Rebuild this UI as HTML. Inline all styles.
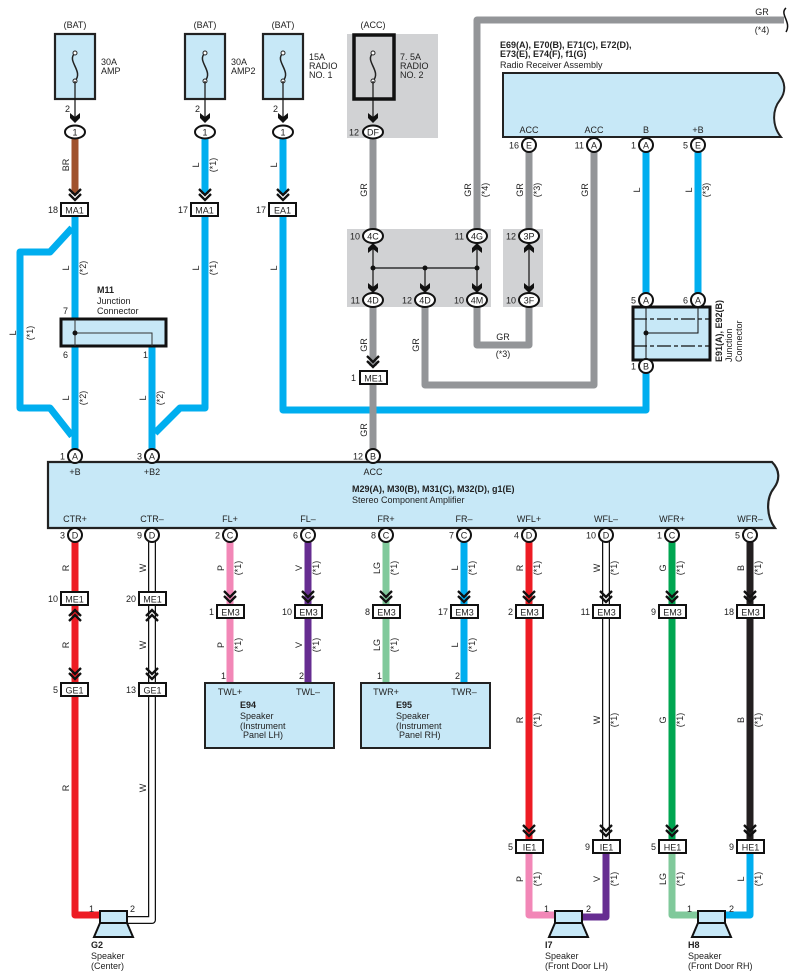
<!DOCTYPE html>
<html><head><meta charset="utf-8"><style>
html,body{margin:0;padding:0;background:#fff;}
svg{display:block;font-family:"Liberation Sans",sans-serif;}
text{font-size:9px;fill:#222;}
.b{font-weight:bold;}
.w{fill:none;stroke-linejoin:round;}
</style></head><body>
<svg width="802" height="979" viewBox="0 0 802 979" xmlns="http://www.w3.org/2000/svg">
<defs>
<g id="chd"><path d="M-6,-9 L0,-3 L6,-9 M-6,-4 L0,2 L6,-4" fill="none" stroke="#111" stroke-width="2.3"/></g>
<g id="chu"><path d="M-6,9 L0,3 L6,9 M-6,4 L0,-2 L6,4" fill="none" stroke="#111" stroke-width="2.3"/></g>
<g id="ard"><path d="M-5,-7 L0,-3 L5,-7 L5,-2 L0,3 L-5,-2 Z" fill="#111"/></g>
<g id="aru"><path d="M-5,7 L0,3 L5,7 L5,2 L0,-3 L-5,2 Z" fill="#111"/></g>
<g id="fuse"><path d="M0,-14 C-9,-6 9,4 0,14" fill="none" stroke="#222" stroke-width="1.5"/><circle cx="0" cy="-14" r="2" fill="#fff" stroke="#222"/><circle cx="0" cy="14" r="2" fill="#fff" stroke="#222"/></g>
</defs>

<!-- grey backgrounds -->
<rect x="347" y="34" width="91" height="104" fill="#d1d2d4"/>
<rect x="347" y="229" width="144" height="78" fill="#d1d2d4"/>
<rect x="503" y="229" width="40" height="78" fill="#d1d2d4"/>

<!-- fuses -->
<g font-size="9">
<text x="75" y="28" text-anchor="middle">(BAT)</text>
<text x="205" y="28" text-anchor="middle">(BAT)</text>
<text x="283" y="28" text-anchor="middle">(BAT)</text>
<text x="373" y="28" text-anchor="middle">(ACC)</text>
</g>
<rect x="55" y="34" width="40" height="65" fill="#c7e8f7" stroke="#222" stroke-width="2.2"/>
<rect x="185" y="34" width="40" height="65" fill="#c7e8f7" stroke="#222" stroke-width="2.2"/>
<rect x="263" y="34" width="40" height="65" fill="#c7e8f7" stroke="#222" stroke-width="2.2"/>
<rect x="354" y="35" width="40" height="64" fill="#d1d2d4" stroke="#111" stroke-width="3.5"/>
<use href="#fuse" x="75" y="67"/><use href="#fuse" x="205" y="67"/><use href="#fuse" x="283" y="67"/><use href="#fuse" x="373" y="67"/>
<text x="101" y="65">30A</text><text x="101" y="74">AMP</text>
<text x="231" y="65">30A</text><text x="231" y="74">AMP2</text>
<text x="309" y="60">15A</text><text x="309" y="69">RADIO</text><text x="309" y="78">NO. 1</text>
<text x="400" y="60">7. 5A</text><text x="400" y="69">RADIO</text><text x="400" y="78">NO. 2</text>
<g stroke="#111" stroke-width="1.2">
<line x1="75" y1="81" x2="75" y2="118"/><line x1="205" y1="81" x2="205" y2="118"/><line x1="283" y1="81" x2="283" y2="118"/><line x1="373" y1="81" x2="373" y2="118"/>
</g>
<use href="#ard" x="75" y="120"/><use href="#ard" x="205" y="120"/><use href="#ard" x="283" y="120"/><use href="#ard" x="373" y="120"/>
<text x="70" y="112" text-anchor="end">2</text><text x="200" y="112" text-anchor="end">2</text><text x="278" y="112" text-anchor="end">2</text>

<!-- ===== WIRES (top) ===== -->
<g class="w" stroke-width="7">
<path d="M75,139 V194" stroke="#a0522d"/>
<path d="M205,139 V194" stroke="#00aeef"/>
<path d="M283,139 V194" stroke="#00aeef"/>
<path d="M75,216 V449" stroke="#00aeef"/>
<path d="M72,228 L50,252 H20 V408 H50 L72,436" stroke="#00aeef"/>
<path d="M152,346 V449" stroke="#00aeef"/>
<path d="M205,216 V408 H180 L155,433" stroke="#00aeef"/>
<path d="M283,216 V410 H646 V373" stroke="#00aeef"/>
<path d="M646,152 V293" stroke="#00aeef"/>
<path d="M698,152 V293" stroke="#00aeef"/>
<path d="M373,139 V229" stroke="#939598"/>
<path d="M373,307 V366" stroke="#939598"/>
<path d="M373,385 V449" stroke="#939598"/>
<path d="M425,307 V385 H594 V152" stroke="#939598"/>
<path d="M477,307 V345 H529 V307" stroke="#939598"/>
<path d="M529,229 V152" stroke="#939598"/>
<path d="M477,229 V20 H784" stroke="#939598"/>
</g>
<path d="M786,8 C779,14 792,22 786,32" fill="none" stroke="#111" stroke-width="1.5"/>
<text x="762" y="15" text-anchor="middle">GR</text><text x="762" y="33" text-anchor="middle">(*4)</text>

<!-- top connectors -->
<g fill="#fff" stroke="#111" stroke-width="2">
<ellipse cx="75" cy="132" rx="10" ry="6.5"/><ellipse cx="205" cy="132" rx="10" ry="6.5"/><ellipse cx="283" cy="132" rx="10" ry="6.5"/><ellipse cx="373" cy="132" rx="10" ry="6.5"/>
</g>
<g text-anchor="middle"><text x="75" y="135.5">1</text><text x="205" y="135.5">1</text><text x="283" y="135.5">1</text><text x="373" y="135.5">DF</text></g>
<text x="359" y="135.5" text-anchor="end">12</text>

<use href="#chd" x="75" y="198"/><use href="#chd" x="205" y="198"/><use href="#chd" x="283" y="198"/>
<g fill="#fff" stroke="#111" stroke-width="2">
<rect x="61" y="203" width="27" height="13"/><rect x="191" y="203" width="27" height="13"/><rect x="269" y="203" width="27" height="13"/>
</g>
<g text-anchor="middle" font-size="10"><text x="74.5" y="213.5" font-size="10">MA1</text><text x="204.5" y="213.5" font-size="10">MA1</text><text x="282.5" y="213.5" font-size="10">EA1</text></g>
<g text-anchor="end"><text x="58" y="213">18</text><text x="188" y="213">17</text><text x="266" y="213">17</text></g>

<!-- wire labels rotated -->
<g text-anchor="middle">
<text transform="translate(69,165) rotate(-90)">BR</text>
<text transform="translate(199,165) rotate(-90)">L</text><text transform="translate(216,165) rotate(-90)">(*1)</text>
<text transform="translate(277,165) rotate(-90)">L</text>
<text transform="translate(69,268) rotate(-90)">L</text><text transform="translate(86,268) rotate(-90)">(*2)</text>
<text transform="translate(199,268) rotate(-90)">L</text><text transform="translate(216,268) rotate(-90)">(*1)</text>
<text transform="translate(277,268) rotate(-90)">L</text>
<text transform="translate(16,333) rotate(-90)">L</text><text transform="translate(33,333) rotate(-90)">(*1)</text>
<text transform="translate(69,398) rotate(-90)">L</text><text transform="translate(86,398) rotate(-90)">(*2)</text>
<text transform="translate(146,398) rotate(-90)">L</text><text transform="translate(163,398) rotate(-90)">(*2)</text>
<text transform="translate(367,190) rotate(-90)">GR</text>
<text transform="translate(367,345) rotate(-90)">GR</text>
<text transform="translate(367,430) rotate(-90)">GR</text>
<text transform="translate(419,345) rotate(-90)">GR</text>
<text transform="translate(471,190) rotate(-90)">GR</text><text transform="translate(488,190) rotate(-90)">(*4)</text>
<text transform="translate(523,190) rotate(-90)">GR</text><text transform="translate(540,190) rotate(-90)">(*3)</text>
<text transform="translate(588,190) rotate(-90)">GR</text>
<text transform="translate(640,190) rotate(-90)">L</text>
<text transform="translate(692,190) rotate(-90)">L</text><text transform="translate(709,190) rotate(-90)">(*3)</text>
</g>
<text x="503" y="340" text-anchor="middle">GR</text><text x="503" y="357" text-anchor="middle">(*3)</text>

<!-- M11 -->
<text x="97" y="293" class="b">M11</text><text x="97" y="304">Junction</text><text x="97" y="314">Connector</text>
<rect x="61" y="319" width="105" height="27" fill="#c7e8f7" stroke="#111" stroke-width="3"/>
<path d="M75,319 V346 M75,333 H152 V346" fill="none" stroke="#333" stroke-width="1"/>
<circle cx="75" cy="333" r="2.5" fill="#111"/>
<text x="68" y="314" text-anchor="end">7</text><text x="68" y="358" text-anchor="end">6</text><text x="148" y="358" text-anchor="end">1</text>

<!-- junction block -->
<g stroke="#111" stroke-width="1.2">
<line x1="373" y1="243" x2="373" y2="294"/><line x1="477" y1="243" x2="477" y2="294"/><line x1="529" y1="243" x2="529" y2="294"/>
<line x1="425" y1="268" x2="425" y2="294"/><line x1="373" y1="268" x2="477" y2="268"/>
</g>
<circle cx="373" cy="268" r="2.5" fill="#111"/><circle cx="425" cy="268" r="2.5" fill="#111"/><circle cx="477" cy="268" r="2.5" fill="#111"/>
<use href="#aru" x="373" y="246"/><use href="#aru" x="477" y="246"/><use href="#aru" x="529" y="246"/>
<use href="#ard" x="373" y="290"/><use href="#ard" x="425" y="290"/><use href="#ard" x="477" y="290"/><use href="#ard" x="529" y="290"/>
<g fill="#fff" stroke="#111" stroke-width="2">
<ellipse cx="373" cy="236" rx="10" ry="7"/><ellipse cx="477" cy="236" rx="10" ry="7"/><ellipse cx="529" cy="236" rx="10" ry="7"/>
<ellipse cx="373" cy="300" rx="10" ry="7"/><ellipse cx="425" cy="300" rx="10" ry="7"/><ellipse cx="477" cy="300" rx="10" ry="7"/><ellipse cx="529" cy="300" rx="10" ry="7"/>
</g>
<g text-anchor="middle"><text x="373" y="239.5">4C</text><text x="477" y="239.5">4G</text><text x="529" y="239.5">3P</text>
<text x="373" y="303.5">4D</text><text x="425" y="303.5">4D</text><text x="477" y="303.5">4M</text><text x="529" y="303.5">3F</text></g>
<g text-anchor="end"><text x="360" y="239.5">10</text><text x="464" y="239.5">11</text><text x="516" y="239.5">12</text>
<text x="360" y="303.5">11</text><text x="412" y="303.5">12</text><text x="464" y="303.5">10</text><text x="516" y="303.5">10</text></g>

<!-- ME1 -->
<use href="#chd" x="373" y="365"/>
<rect x="360" y="371" width="27" height="13" fill="#fff" stroke="#111" stroke-width="2"/>
<text x="373.5" y="381.5" text-anchor="middle" font-size="10">ME1</text><text x="356" y="381" text-anchor="end">1</text>

<!-- Radio receiver -->
<text x="500" y="48" class="b">E69(A), E70(B), E71(C), E72(D),</text>
<text x="500" y="57" class="b">E73(E), E74(F), f1(G)</text>
<text x="500" y="68">Radio Receiver Assembly</text>
<path d="M503,73 H778 C786,82 786,92 780,100 C772,110 772,126 781,137 H503 Z" fill="#c7e8f7" stroke="#222" stroke-width="2"/>
<g text-anchor="middle"><text x="529" y="133">ACC</text><text x="594" y="133">ACC</text><text x="646" y="133">B</text><text x="698" y="133">+B</text></g>
<g fill="#fff" stroke="#111" stroke-width="2"><circle cx="529" cy="145" r="7"/><circle cx="594" cy="145" r="7"/><circle cx="646" cy="145" r="7"/><circle cx="698" cy="145" r="7"/></g>
<g text-anchor="middle"><text x="529" y="148.5">E</text><text x="594" y="148.5">A</text><text x="646" y="148.5">A</text><text x="698" y="148.5">E</text></g>
<g text-anchor="end"><text x="519" y="148.5">16</text><text x="584" y="148.5">11</text><text x="636" y="148.5">1</text><text x="688" y="148.5">5</text></g>

<!-- E91 -->
<rect x="633" y="307" width="77" height="53" fill="#c7e8f7" stroke="#111" stroke-width="3"/>
<path d="M633,319 H710 M633,346 H710" stroke="#111" stroke-width="1.2" stroke-dasharray="14,3,4,3"/>
<path d="M646,307 V360 M698,307 V333 H646" fill="none" stroke="#111" stroke-width="1"/>
<circle cx="646" cy="333" r="2.5" fill="#111"/>
<g fill="#fff" stroke="#111" stroke-width="2"><circle cx="646" cy="300" r="7"/><circle cx="698" cy="300" r="7"/><circle cx="646" cy="366" r="7"/></g>
<g text-anchor="middle"><text x="646" y="303.5">A</text><text x="698" y="303.5">A</text><text x="646" y="369.5">B</text></g>
<g text-anchor="end"><text x="636" y="303.5">5</text><text x="688" y="303.5">6</text><text x="636" y="369.5">1</text></g>
<text transform="translate(722,362) rotate(-90)" class="b">E91(A), E92(B)</text>
<text transform="translate(732,362) rotate(-90)">Junction</text>
<text transform="translate(742,362) rotate(-90)">Connector</text>

<!-- ===== AMPLIFIER ===== -->
<path d="M48,462 H772 C780,470 780,480 774,488 C766,498 766,516 775,528 H48 Z" fill="#c7e8f7" stroke="#222" stroke-width="2.2"/>
<g fill="#fff" stroke="#111" stroke-width="2"><circle cx="75" cy="456" r="7"/><circle cx="152" cy="456" r="7"/><circle cx="373" cy="456" r="7"/></g>
<g text-anchor="middle"><text x="75" y="459.5">A</text><text x="152" y="459.5">A</text><text x="373" y="459.5">B</text></g>
<g text-anchor="end"><text x="65" y="459.5">1</text><text x="142" y="459.5">3</text><text x="363" y="459.5">12</text></g>
<g text-anchor="middle"><text x="75" y="475">+B</text><text x="152" y="475">+B2</text><text x="373" y="475">ACC</text></g>
<text x="352" y="492" class="b">M29(A), M30(B), M31(C), M32(D), g1(E)</text>
<text x="352" y="503">Stereo Component Amplifier</text>
<g text-anchor="middle">
<text x="75" y="522">CTR+</text><text x="152" y="522">CTR–</text><text x="230" y="522">FL+</text><text x="308" y="522">FL–</text>
<text x="386" y="522">FR+</text><text x="464" y="522">FR–</text><text x="529" y="522">WFL+</text><text x="606" y="522">WFL–</text>
<text x="672" y="522">WFR+</text><text x="750" y="522">WFR–</text>
</g>

<!-- bottom wires -->
<g class="w" stroke-width="7">
<path d="M75,542 V915 H100" stroke="#ed1c24"/>
<path d="M230,542 V683" stroke="#f287b7"/>
<path d="M308,542 V683" stroke="#662d91"/>
<path d="M386,542 V683" stroke="#80c99b"/>
<path d="M464,542 V683" stroke="#00aeef"/>
<path d="M529,542 V839" stroke="#ed1c24"/>
<path d="M529,853 V915 H556" stroke="#f287b7"/>
<path d="M606,853 V917 H581" stroke="#662d91"/>
<path d="M672,542 V839" stroke="#00a651"/>
<path d="M672,853 V915 H699" stroke="#80c99b"/>
<path d="M750,542 V839" stroke="#231f20"/>
<path d="M750,853 V915 H724" stroke="#00aeef"/>
</g>
<!-- white wires -->
<g class="w">
<path d="M152,542 V920 H127" stroke="#111" stroke-width="8"/>
<path d="M152,542 V920 H127" stroke="#fff" stroke-width="5.5"/>
<path d="M606,542 V839" stroke="#111" stroke-width="8"/>
<path d="M606,542 V839" stroke="#fff" stroke-width="5.5"/>
</g>

<!-- bottom pins -->
<g fill="#fff" stroke="#111" stroke-width="2">
<circle cx="75" cy="535" r="7"/><circle cx="152" cy="535" r="7"/><circle cx="230" cy="535" r="7"/><circle cx="308" cy="535" r="7"/>
<circle cx="386" cy="535" r="7"/><circle cx="464" cy="535" r="7"/><circle cx="529" cy="535" r="7"/><circle cx="606" cy="535" r="7"/>
<circle cx="672" cy="535" r="7"/><circle cx="750" cy="535" r="7"/>
</g>
<g text-anchor="middle">
<text x="75" y="538.5">D</text><text x="152" y="538.5">D</text><text x="230" y="538.5">C</text><text x="308" y="538.5">C</text>
<text x="386" y="538.5">C</text><text x="464" y="538.5">C</text><text x="529" y="538.5">D</text><text x="606" y="538.5">D</text>
<text x="672" y="538.5">C</text><text x="750" y="538.5">C</text>
</g>
<g text-anchor="end">
<text x="65" y="538.5">3</text><text x="142" y="538.5">9</text><text x="220" y="538.5">2</text><text x="298" y="538.5">6</text>
<text x="376" y="538.5">8</text><text x="454" y="538.5">7</text><text x="519" y="538.5">4</text><text x="596" y="538.5">10</text>
<text x="662" y="538.5">1</text><text x="740" y="538.5">5</text>
</g>

<!-- ME1 / GE1 -->
<g fill="#fff" stroke="#111" stroke-width="2">
<rect x="61" y="592" width="27" height="13"/><rect x="139" y="592" width="27" height="13"/>
<rect x="61" y="683" width="27" height="13"/><rect x="139" y="683" width="27" height="13"/>
</g>
<use href="#chu" x="75" y="612"/><use href="#chu" x="152" y="612"/>
<use href="#chd" x="75" y="677"/><use href="#chd" x="152" y="677"/>
<g text-anchor="middle" font-size="10"><text x="74.5" y="602.5" font-size="10">ME1</text><text x="152.5" y="602.5" font-size="10">ME1</text>
<text x="74.5" y="693.5" font-size="10">GE1</text><text x="152.5" y="693.5" font-size="10">GE1</text></g>
<g text-anchor="end"><text x="58" y="602">10</text><text x="136" y="602">20</text><text x="58" y="693">5</text><text x="136" y="693">13</text></g>

<!-- EM3 row -->
<g fill="#fff" stroke="#111" stroke-width="2">
<rect x="217" y="605" width="27" height="13"/><rect x="295" y="605" width="27" height="13"/><rect x="373" y="605" width="27" height="13"/><rect x="451" y="605" width="27" height="13"/>
<rect x="516" y="605" width="27" height="13"/><rect x="593" y="605" width="27" height="13"/><rect x="659" y="605" width="27" height="13"/><rect x="737" y="605" width="27" height="13"/>
</g>
<use href="#chd" x="230" y="600"/><use href="#chd" x="308" y="600"/><use href="#chd" x="386" y="600"/><use href="#chd" x="464" y="600"/>
<use href="#chd" x="529" y="600"/><use href="#chd" x="606" y="600"/><use href="#chd" x="672" y="600"/><use href="#chd" x="750" y="600"/>
<g text-anchor="middle">
<text x="230.5" y="615.5" font-size="10">EM3</text><text x="308.5" y="615.5" font-size="10">EM3</text><text x="386.5" y="615.5" font-size="10">EM3</text><text x="464.5" y="615.5" font-size="10">EM3</text>
<text x="529.5" y="615.5" font-size="10">EM3</text><text x="606.5" y="615.5" font-size="10">EM3</text><text x="672.5" y="615.5" font-size="10">EM3</text><text x="750.5" y="615.5" font-size="10">EM3</text>
</g>
<g text-anchor="end">
<text x="214" y="615">1</text><text x="292" y="615">10</text><text x="370" y="615">8</text><text x="448" y="615">17</text>
<text x="513" y="615">2</text><text x="590" y="615">11</text><text x="656" y="615">9</text><text x="734" y="615">18</text>
</g>

<!-- E94 / E95 -->
<rect x="205" y="683" width="129" height="65" fill="#c7e8f7" stroke="#222" stroke-width="2"/>
<rect x="361" y="683" width="129" height="65" fill="#c7e8f7" stroke="#222" stroke-width="2"/>
<text x="226" y="679" text-anchor="end">1</text><text x="304" y="679" text-anchor="end">2</text>
<text x="382" y="679" text-anchor="end">1</text><text x="460" y="679" text-anchor="end">2</text>
<g text-anchor="middle"><text x="230" y="695">TWL+</text><text x="308" y="695">TWL–</text><text x="386" y="695">TWR+</text><text x="464" y="695">TWR–</text></g>
<text x="240" y="708" class="b">E94</text><text x="240" y="719">Speaker</text><text x="240" y="729">(Instrument</text><text x="243" y="738">Panel LH)</text>
<text x="396" y="708" class="b">E95</text><text x="396" y="719">Speaker</text><text x="396" y="729">(Instrument</text><text x="399" y="738">Panel RH)</text>

<!-- IE1 / HE1 -->
<use href="#chd" x="529" y="834"/><use href="#chd" x="606" y="834"/><use href="#chd" x="672" y="834"/><use href="#chd" x="750" y="834"/>
<g fill="#fff" stroke="#111" stroke-width="2">
<rect x="516" y="840" width="27" height="13"/><rect x="593" y="840" width="27" height="13"/><rect x="659" y="840" width="27" height="13"/><rect x="737" y="840" width="27" height="13"/>
</g>
<g text-anchor="middle">
<text x="529.5" y="850.5" font-size="10">IE1</text><text x="606.5" y="850.5" font-size="10">IE1</text><text x="672.5" y="850.5" font-size="10">HE1</text><text x="750.5" y="850.5" font-size="10">HE1</text>
</g>
<g text-anchor="end"><text x="513" y="850">5</text><text x="590" y="850">9</text><text x="656" y="850">5</text><text x="734" y="850">9</text></g>

<!-- bottom wire labels -->
<g text-anchor="middle">
<text transform="translate(69,568) rotate(-90)">R</text>
<text transform="translate(146,568) rotate(-90)">W</text>
<text transform="translate(224,568) rotate(-90)">P</text><text transform="translate(241,568) rotate(-90)">(*1)</text>
<text transform="translate(302,568) rotate(-90)">V</text><text transform="translate(319,568) rotate(-90)">(*1)</text>
<text transform="translate(380,568) rotate(-90)">LG</text><text transform="translate(397,568) rotate(-90)">(*1)</text>
<text transform="translate(458,568) rotate(-90)">L</text><text transform="translate(475,568) rotate(-90)">(*1)</text>
<text transform="translate(523,568) rotate(-90)">R</text><text transform="translate(540,568) rotate(-90)">(*1)</text>
<text transform="translate(600,568) rotate(-90)">W</text><text transform="translate(617,568) rotate(-90)">(*1)</text>
<text transform="translate(666,568) rotate(-90)">G</text><text transform="translate(683,568) rotate(-90)">(*1)</text>
<text transform="translate(744,568) rotate(-90)">B</text><text transform="translate(761,568) rotate(-90)">(*1)</text>
<text transform="translate(69,645) rotate(-90)">R</text>
<text transform="translate(146,645) rotate(-90)">W</text>
<text transform="translate(224,645) rotate(-90)">P</text><text transform="translate(241,645) rotate(-90)">(*1)</text>
<text transform="translate(302,645) rotate(-90)">V</text><text transform="translate(319,645) rotate(-90)">(*1)</text>
<text transform="translate(380,645) rotate(-90)">LG</text><text transform="translate(397,645) rotate(-90)">(*1)</text>
<text transform="translate(458,645) rotate(-90)">L</text><text transform="translate(475,645) rotate(-90)">(*1)</text>
<text transform="translate(69,788) rotate(-90)">R</text>
<text transform="translate(146,788) rotate(-90)">W</text>
<text transform="translate(523,720) rotate(-90)">R</text><text transform="translate(540,720) rotate(-90)">(*1)</text>
<text transform="translate(600,720) rotate(-90)">W</text><text transform="translate(617,720) rotate(-90)">(*1)</text>
<text transform="translate(666,720) rotate(-90)">G</text><text transform="translate(683,720) rotate(-90)">(*1)</text>
<text transform="translate(744,720) rotate(-90)">B</text><text transform="translate(761,720) rotate(-90)">(*1)</text>
<text transform="translate(523,879) rotate(-90)">P</text><text transform="translate(540,879) rotate(-90)">(*1)</text>
<text transform="translate(600,879) rotate(-90)">V</text><text transform="translate(617,879) rotate(-90)">(*1)</text>
<text transform="translate(666,879) rotate(-90)">LG</text><text transform="translate(683,879) rotate(-90)">(*1)</text>
<text transform="translate(744,879) rotate(-90)">L</text><text transform="translate(761,879) rotate(-90)">(*1)</text>
</g>

<!-- speakers -->
<g fill="#c7e8f7" stroke="#111" stroke-width="2">
<rect x="100" y="911" width="27" height="12"/><path d="M100,923 H127 L133,937 H94 Z"/>
<rect x="555" y="911" width="27" height="12"/><path d="M555,923 H582 L588,937 H549 Z"/>
<rect x="698" y="911" width="27" height="12"/><path d="M698,923 H725 L731,937 H692 Z"/>
</g>
<text x="94" y="912" text-anchor="end">1</text><text x="130" y="912">2</text>
<text x="549" y="912" text-anchor="end">1</text><text x="586" y="912">2</text>
<text x="692" y="912" text-anchor="end">1</text><text x="729" y="912">2</text>
<text x="91" y="948" class="b">G2</text><text x="91" y="959">Speaker</text><text x="91" y="969">(Center)</text>
<text x="545" y="948" class="b">I7</text><text x="545" y="959">Speaker</text><text x="545" y="969">(Front Door LH)</text>
<text x="688" y="948" class="b">H8</text><text x="688" y="959">Speaker</text><text x="688" y="969">(Front Door RH)</text>
</svg>
</body></html>
